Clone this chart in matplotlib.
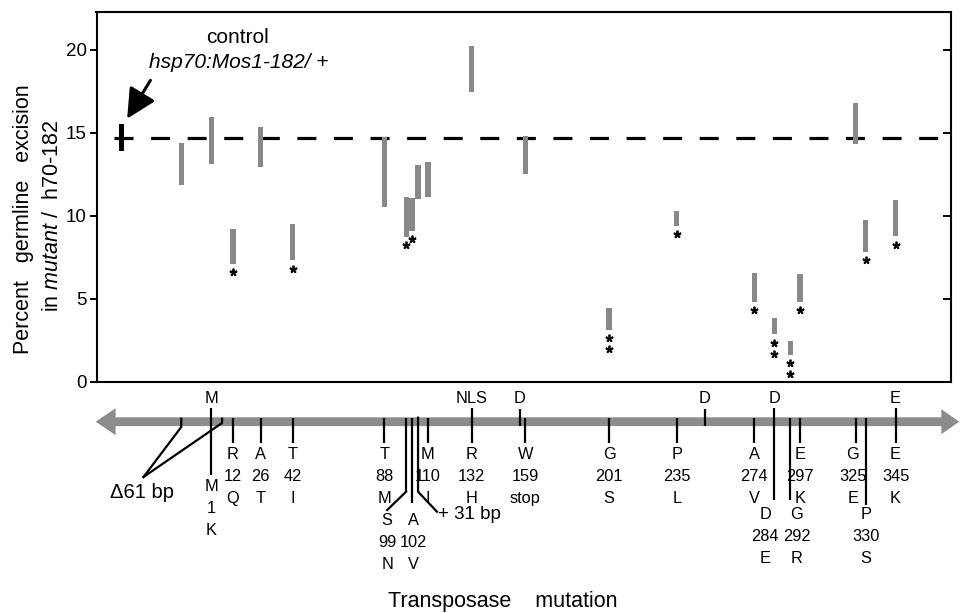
import matplotlib
matplotlib.use('Agg')
import matplotlib.pyplot as plt
from matplotlib.patches import Polygon
from matplotlib.transforms import offset_copy

plt.rcParams['font.family'] = ['Liberation Sans', 'DejaVu Sans']
plt.rcParams['mathtext.fontset'] = 'custom'
plt.rcParams['mathtext.rm'] = 'Liberation Sans'
plt.rcParams['mathtext.it'] = 'Liberation Sans:italic'

# ---------------- data ----------------
control_pos = -44
control_low, control_high = 13.9, 15.5
control_level = 14.7

mut_pos = [1, 12, 26, 42, 88, 99, 102, 110, 132, 159, 201, 235, 274, 284, 292, 297, 325, 330, 345]
mut_wt = ['M', 'R', 'A', 'T', 'T', 'S', 'A', 'M', 'R', 'W', 'G', 'P', 'A', 'D', 'G', 'E', 'G', 'P', 'E']
mut_new = ['K', 'Q', 'T', 'I', 'M', 'N', 'V', 'I', 'H', 'stop', 'S', 'L', 'V', 'E', 'R', 'K', 'E', 'S', 'K']
mut_low = [13.13, 7.10, 12.93, 7.30, 10.51, 8.70, 9.07, 11.12, 17.45, 12.5, 3.1, 9.4, 4.8, 2.85, 1.6, 4.8, 14.3, 7.8, 8.75]
mut_high = [15.94, 9.21, 15.34, 9.47, 14.73, 11.12, 11.08, 13.23, 20.25, 14.8, 4.4, 10.3, 6.55, 3.85, 2.45, 6.5, 16.8, 9.75, 10.95]
mut_stars = [0, 1, 0, 1, 0, 1, 1, 0, 0, 0, 2, 1, 1, 2, 2, 1, 0, 1, 1]

del_start, del_end = -14, 6.5          # delta 61 bp
del_low, del_high = 11.82, 14.37
ins_pos = 105                           # +31 bp insertion
ins_low, ins_high = 11.02, 13.03

motif_pos = [1, 132, 156, 249, 284, 345]
motif_lab = ['M', 'NLS', 'D', 'D', 'D', 'E']

yticks = [0, 5, 10, 15, 20]

# ---------------- layout ----------------
W, H = 961, 613
fig = plt.figure(figsize=(W / 100, H / 100), dpi=100)
L = 96.5 / W
Wd = (950.5 - 96.5) / W
ax_bot = (H - 381.5) / H
ax_top = (H - 11.5) / H
ax = fig.add_axes([L, ax_bot, Wd, ax_top - ax_bot])
gx = fig.add_axes([L, 0, Wd, ax_bot])
xlim = (-56.6, 372.6)

bar_color = '#888888'

# dashed reference line
ln, = ax.plot([-48, 368], [control_level, control_level], color='black', lw=2.3, zorder=1)
ln.set_dashes((5.95, 5.5))

# control
ax.bar(control_pos, control_high - control_low, bottom=control_low, width=2.4,
       color='black', linewidth=0, zorder=3)

# mutant bars
bx = [del_start] + mut_pos + [ins_pos]
blo = [del_low] + mut_low + [ins_low]
bhi = [del_high] + mut_high + [ins_high]
ax.bar(bx, [h - l for h, l in zip(bhi, blo)], bottom=blo, width=2.6,
       color=bar_color, linewidth=0, zorder=2)

# significance stars
for x, lo, n in zip(mut_pos, mut_low, mut_stars):
    for k in range(n):
        tr = offset_copy(ax.transData, fig=fig, y=-(6.0 + 7.9 * k), units='points')
        ax.plot([x], [lo], marker=(5, 2, 0), ms=5.5, mew=1.3, color='black',
                transform=tr, zorder=4, clip_on=False)

ax.set_xlim(*xlim)
ax.set_ylim(0, 22.3)
ax.set_xticks([])
ax.set_yticks(yticks)
ax.tick_params(axis='y', direction='out', length=5, width=1.4, labelsize=13.5, pad=2)
for s in ax.spines.values():
    s.set_linewidth(1.5)

ax2 = ax.twinx()
ax2.set_ylim(ax.get_ylim())
ax2.set_yticks(yticks[1:])
ax2.tick_params(axis='y', direction='in', length=6, width=1.4, labelright=False)
for s in ax2.spines.values():
    s.set_visible(False)

# control annotation
ax.text(14.5, 20.75, 'control', ha='center', va='center', fontsize=15)
ax.text(15, 19.2, 'hsp70:Mos1-182/ +', style='italic', ha='center', va='center', fontsize=15)
ax.annotate('', xy=(-41.2, 15.84), xytext=(-29.5, 18.15),
            arrowprops=dict(arrowstyle='-|>,head_length=0.9,head_width=0.45', lw=2.2,
                            color='black', mutation_scale=20, shrinkA=0, shrinkB=0))

# y label
fig.text(24 / W, 1 - 219 / H, 'Percent   germline   excision', rotation=90,
         ha='center', va='center', fontsize=15.5)
fig.text(53 / W, 1 - 216 / H, r'in $\mathit{mutant}$ /  h$\mathit{70}$-$\mathit{182}$',
         rotation=90, ha='center', va='center', fontsize=15.5)

# ---------------- gene diagram ----------------
gx.set_xlim(*xlim)
gx.set_ylim(H, 381.5)
gx.axis('off')

yc = 421.7
arrow = Polygon([(-57, yc), (-47, yc - 13.5), (-47, yc - 4.4), (368, yc - 4.4), (368, yc - 12.5),
                 (377, yc), (368, yc + 12.5), (368, yc + 4.4), (-47, yc + 4.4), (-47, yc + 13.5)],
                closed=True, facecolor='#8c8c8c', edgecolor='none', clip_on=False, zorder=1)
gx.add_patch(arrow)

lw_t = 1.6
fs = 11.8

# label layout per mutation
base_y = {1: 487, 284: 515, 292: 515, 330: 515, 99: 521, 102: 521}
line_bot = {1: 475, 284: 500, 292: 500, 330: 505, 102: 503, 99: 491.7}
lab_x = {99: 89.5, 102: 102.8, 284: 279.4, 292: 295.3, 325: 323.5}
top_set = set(motif_pos)

for p, wt, new in zip(mut_pos, mut_wt, mut_new):
    y0 = 408 if p in top_set else yc - 4
    y1 = line_bot.get(p, 443)
    gx.plot([p, p], [y0, y1], color='black', lw=lw_t, solid_capstyle='butt', clip_on=False, zorder=3)
    by = base_y.get(p, 455)
    lx = lab_x.get(p, p)
    for k, t in enumerate([wt, str(p), new]):
        gx.text(lx, by + 22 * k, t, ha='center', va='center', fontsize=fs, clip_on=False)
gx.plot([99, 89.5], [491.7, 510], color='black', lw=lw_t, clip_on=False, zorder=3)

for p, t in zip(motif_pos, motif_lab):
    gx.text(p, 399, t, ha='center', va='center', fontsize=fs, clip_on=False)
    if p not in mut_pos:
        gx.plot([p, p], [409, yc + 4], color='black', lw=lw_t, solid_capstyle='butt', clip_on=False, zorder=3)

# insertion
gx.plot([ins_pos, ins_pos, 114.5], [yc - 4, 491.7, 511.7], color='black', lw=lw_t, clip_on=False, zorder=3)
gx.text(115, 515, '+ 31 bp', ha='left', va='center', fontsize=13.5, clip_on=False)

# deletion
gx.plot([del_start, del_start, -33], [yc - 3, 427, 477], color='black', lw=lw_t, clip_on=False, zorder=3)
gx.plot([del_end, del_end, -33], [yc - 3, 423, 477], color='black', lw=lw_t, clip_on=False, zorder=3)
gx.text(-33.5, 493, '\u039461 bp', ha='center', va='center', fontsize=14.5, clip_on=False)

fig.text(503 / W, 1 - 601.7 / H, 'Transposase    mutation', ha='center', va='center', fontsize=15.5)

fig.savefig('out.png', dpi=100)
